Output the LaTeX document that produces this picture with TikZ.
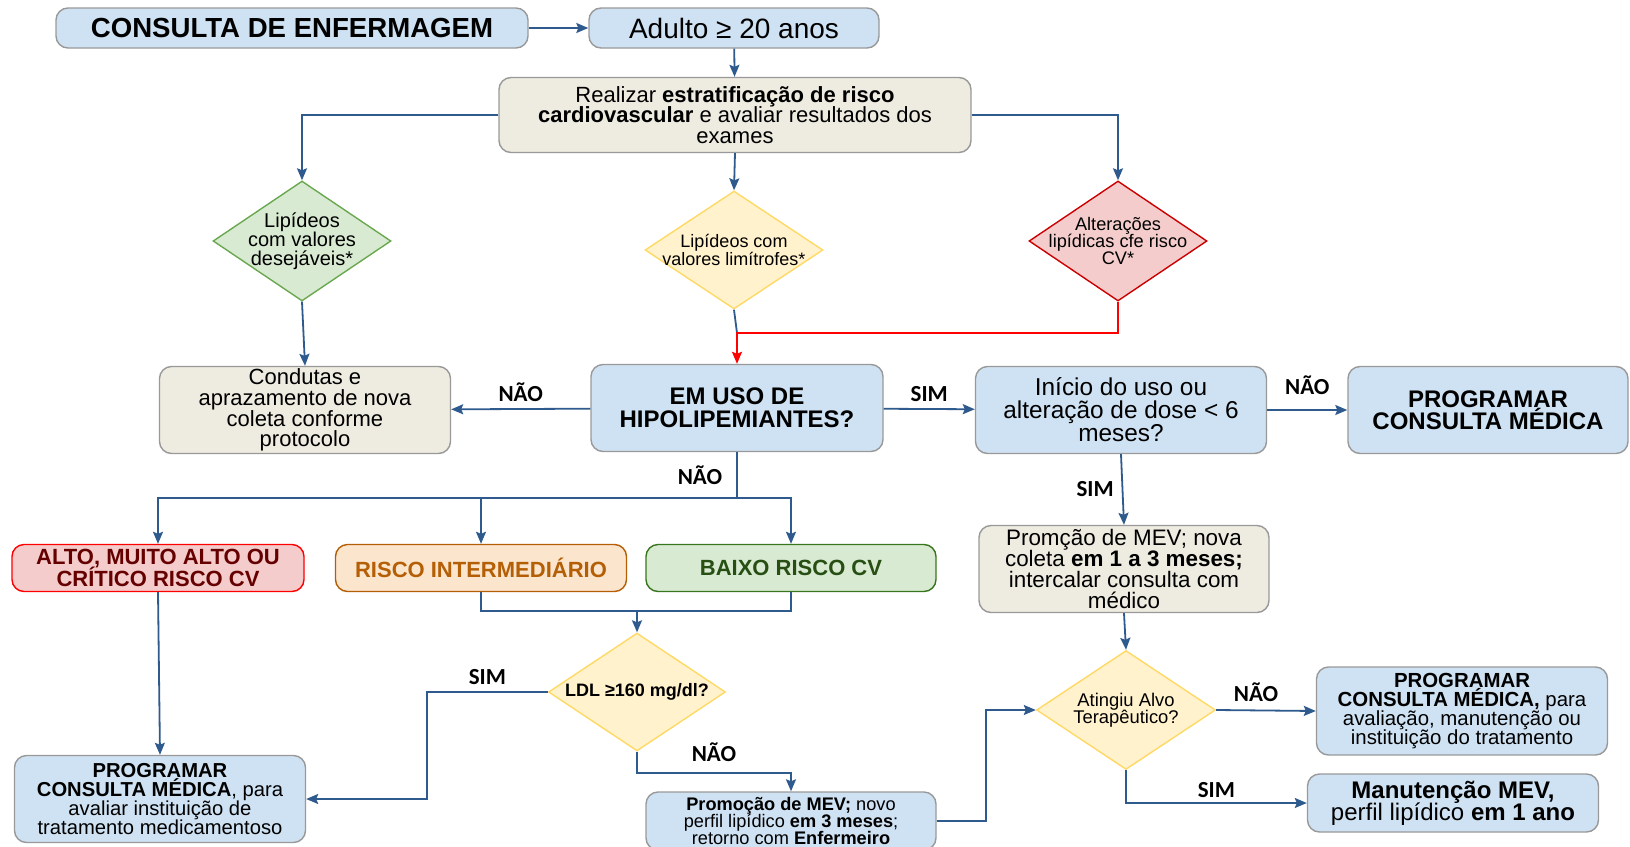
\documentclass[tikz,border=0pt]{standalone}
\usepackage{fontspec}
\setmainfont{Liberation Sans}
\newfontfamily\lblfont{Carlito}
\usepackage{tikz}
\usetikzlibrary{shapes.geometric, arrows.meta}

\definecolor{boxblue}{HTML}{CFE2F3}
\definecolor{boxbeige}{HTML}{EEECE1}
\definecolor{boxgray}{HTML}{999999}
\definecolor{lineblue}{HTML}{2E5A8E}
\definecolor{greenfill}{HTML}{D9EAD3}
\definecolor{greenline}{HTML}{6AA84F}
\definecolor{yellowfill}{HTML}{FFF2CC}
\definecolor{yellowline}{HTML}{FFD966}
\definecolor{redfill}{HTML}{F4CCCC}
\definecolor{redline}{HTML}{CC0000}
\definecolor{altotext}{HTML}{660000}
\definecolor{orangefill}{HTML}{FCE5CD}
\definecolor{orangeline}{HTML}{B45F06}
\definecolor{baixoline}{HTML}{38761D}
\definecolor{baixotext}{HTML}{274E13}
\newcommand{\fsz}[2]{\fontsize{#1}{#2}\selectfont\lineskiplimit=-20pt\relax}

\begin{document}
\begin{tikzpicture}[x=0.5pt, y=-0.5pt,
  box/.style={draw=boxgray, line width=0.7pt, rounded corners=6pt, align=center, inner sep=0pt},
  bluebox/.style={box, fill=boxblue},
  beigebox/.style={box, fill=boxbeige},
  decision/.style={diamond, line width=0.7pt, inner sep=0pt},
  dtext/.style={align=center, inner sep=0pt},
  flow/.style={draw=lineblue, line width=0.9pt, -{Stealth[length=6pt, width=5pt, inset=1pt]}},
  plain/.style={draw=lineblue, line width=0.9pt},
  lbl/.style={font=\lblfont\bfseries\fsz{11.5}{11.5}, inner sep=1pt}]
  \useasboundingbox (0,0) rectangle (1630,847);

  % top row
  \node[bluebox, minimum width=236pt, minimum height=20pt, font=\bfseries\fsz{13.8}{14}] (consulta) at (292,28) {CONSULTA DE ENFERMAGEM};
  \node[bluebox, minimum width=145pt, minimum height=20pt, font=\fsz{14}{14}] (adulto) at (734,28) {Adulto ≥ 20 anos};
  \node[beigebox, minimum width=236pt, minimum height=37.5pt, font=\fsz{11}{10.4}] (realizar) at (735,115)
       {Realizar \textbf{estratificação de risco}\\\textbf{cardiovascular} e avaliar resultados dos\\exames};

  % diamonds
  \node[decision, draw=greenline, fill=greenfill, minimum width=89pt, minimum height=60pt,
        label={[dtext, font=\fsz{10}{9.6}]center:{Lipídeos\\com valores\\desejáveis*}}] (desej) at (302,241) {};
  \node[decision, draw=yellowline, fill=yellowfill, minimum width=89pt, minimum height=59pt,
        label={[dtext, font=\fsz{9}{8.8}]center:{Lipídeos com\\valores limítrofes*}}] (limit) at (734,250) {};
  \node[decision, draw=redline, fill=redfill, minimum width=89pt, minimum height=60pt,
        label={[dtext, font=\fsz{9.1}{8.4}]center:{Alterações\\lipídicas cfe risco\\CV*}}] (alter) at (1118,241) {};

  % middle row
  \node[beigebox, minimum width=145.5pt, minimum height=43.5pt, font=\fsz{11}{10.4}] (condutas) at (305,410)
       {Condutas e\\aprazamento de nova\\coleta conforme\\protocolo};
  \node[bluebox, minimum width=146pt, minimum height=43.5pt, font=\bfseries\fsz{12}{11.4}] (emuso) at (737,408)
       {EM USO DE\\HIPOLIPEMIANTES?};
  \node[bluebox, minimum width=145.5pt, minimum height=43.5pt, font=\fsz{12.2}{11.5}] (inicio) at (1121,410)
       {Início do uso ou\\alteração de dose < 6\\meses?};
  \node[bluebox, minimum width=140pt, minimum height=43.5pt, font=\bfseries\fsz{12}{10.9}] (progr1) at (1488,410)
       {PROGRAMAR\\CONSULTA MÉDICA};

  % risk boxes
  \node[box, draw=red, fill=redfill, text=altotext, minimum width=146pt, minimum height=23.5pt, font=\bfseries\fsz{11}{10.9}] (alto) at (158,568)
       {ALTO, MUITO ALTO OU\\CRÍTICO RISCO CV};
  \node[box, draw=orangeline, fill=orangefill, text=orangeline, minimum width=145.5pt, minimum height=23.5pt, font=\bfseries\fsz{11}{10.4}] (risint) at (481,568)
       {RISCO INTERMEDIÁRIO};
  \node[box, draw=baixoline, fill=greenfill, text=baixotext, minimum width=145pt, minimum height=23.5pt, font=\bfseries\fsz{11}{10.4}] (baixo) at (791,568)
       {BAIXO RISCO CV};
  \node[beigebox, minimum width=145pt, minimum height=43.5pt, font=\fsz{11.2}{10.4}] (promcao) at (1124,569)
       {Promção de MEV; nova\\coleta \textbf{em 1 a 3 meses;}\\intercalar consulta com\\médico};

  % lower part
  \node[decision, draw=yellowline, fill=yellowfill, minimum width=88.5pt, minimum height=59pt,
        label={[dtext, font=\bfseries\fsz{9}{9}]center:{LDL ≥160 mg/dl?}}] (ldl) at (637,692) {};
  \node[decision, draw=yellowline, fill=yellowfill, minimum width=89.5pt, minimum height=59.5pt,
        label={[dtext, font=\fsz{9.2}{8.4}]center:{Atingiu Alvo\\Terapêutico?}}] (atingiu) at (1126,710) {};
  \node[bluebox, minimum width=145.5pt, minimum height=43.5pt, font=\fsz{10.1}{9.5}] (progr2) at (160,799)
       {\textbf{PROGRAMAR}\\\textbf{CONSULTA MÉDICA}, para\\avaliar instituição de\\tratamento medicamentoso};
  \node[bluebox, minimum width=145pt, minimum height=29pt, font=\fsz{9.1}{8.4}] (promocao) at (791,821)
       {\textbf{Promoção de MEV;} novo\\perfil lipídico \textbf{em 3 meses};\\retorno com \textbf{Enfermeiro}};
  \node[bluebox, minimum width=145.5pt, minimum height=44pt, font=\fsz{10.2}{9.6}] (progr3) at (1462,711)
       {\textbf{PROGRAMAR}\\\textbf{CONSULTA MÉDICA,} para\\avaliação, manutenção ou\\instituição do tratamento};
  \node[bluebox, minimum width=145.5pt, minimum height=29pt, font=\fsz{12}{10.9}] (manut) at (1453,803)
       {\textbf{Manutenção MEV,}\\perfil lipídico \textbf{em 1 ano}};

  \coordinate (redknee) at (737,333);
  \coordinate (split) at (737,498);
  \coordinate (join) at (637,611);

  % connectors
  \draw[flow] (consulta) -- (adulto);
  \draw[flow] (adulto) -- (realizar);
  \draw[flow] (realizar.west) -| (desej.north);
  \draw[flow] (realizar.south) -- (limit.north);
  \draw[flow] (realizar.east) -| (alter.north);
  \draw[flow] (desej.south) -- (condutas.north);
  \draw[plain] (limit.south) -- (redknee);
  \draw[red, line width=0.9pt, -{Stealth[length=6pt, width=5pt, inset=1pt]}] (alter.south) |- (redknee) -- (emuso.north);
  \draw[flow] (emuso) -- node[lbl, above=2pt] {NÃO} (condutas);
  \draw[flow] (emuso) -- node[lbl, above=2pt] {SIM} (inicio);
  \draw[flow] (inicio) -- node[lbl, above=6pt] {NÃO} (progr1);
  \draw[flow] (inicio.south) -- node[lbl, left=3pt] {SIM} (promcao.north);
  \draw[plain] (emuso.south) -- node[lbl, left=6pt] {NÃO} (split);
  \draw[flow] (split) -| (alto.north);
  \draw[flow] (split) -| (risint.north);
  \draw[flow] (split) -| (baixo.north);
  \draw[plain] (risint.south) |- (join);
  \draw[plain] (baixo.south) |- (join);
  \draw[flow] (join) -- (ldl.north);
  \draw[flow] (alto.south) -- (progr2.north);
  \draw[flow] (ldl.west) -- ++(-121,0) node[lbl, midway, above=2pt] {SIM} |- (progr2.east);
  \draw[flow] (ldl.south) -- ++(0,21) -| node[lbl, pos=0.25, above=4pt] {NÃO} (promocao.north);
  \draw[flow] (promocao.east) -- ++(49,0) |- (atingiu.west);
  \draw[flow] (promcao.south) -- (atingiu.north);
  \draw[flow] (atingiu.east) -- node[lbl, pos=0.4, above=3pt] {NÃO} (progr3.west);
  \draw[flow] (atingiu.south) |- node[lbl, pos=0.75, above=1pt] {SIM} (manut.west);
\end{tikzpicture}
\end{document}
